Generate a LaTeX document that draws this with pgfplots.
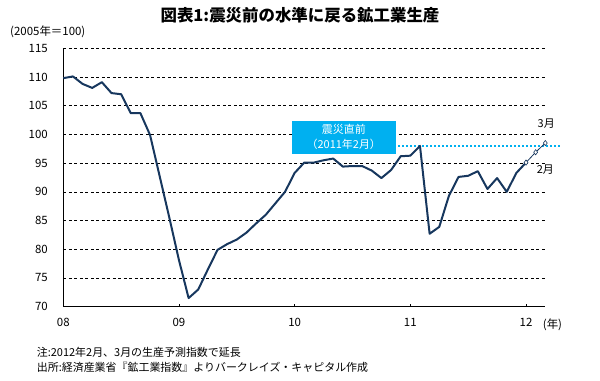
\documentclass[border=0pt]{standalone}
\usepackage{pgfplots}
\pgfplotsset{compat=1.18}
\usepackage{fontspec}
\setmainfont{Noto Sans CJK JP}
\definecolor{navy}{RGB}{23,55,94}
\definecolor{cyanbox}{RGB}{0,176,240}
\begin{document}
\begin{tikzpicture}
\useasboundingbox (-63.3bp,-74.3bp) rectangle (536.7bp,306.7bp);
\begin{axis}[
  scale only axis,
  width=482bp, height=258.4bp,
  xmin=0, xmax=50, ymin=70, ymax=115,
  axis x line*=bottom, axis y line*=left,
  axis line style={line width=0.8bp, -},
  xtick={0,12,24,36,48},
  xticklabels={08,09,10,11,12},
  ytick={70,75,...,115},
  major tick length=3bp,
  ytick style={draw=none},
  xtick style={line width=0.6bp, black},
  ymajorgrids,
  grid style={black, line width=0.6bp, dash pattern=on 3bp off 2.5bp},
  tick label style={font=\fontsize{11.5}{13}\selectfont},
  yticklabel style={xshift=-12bp},
  xticklabel style={yshift=-8bp},
  /pgf/number format/assume math mode=true,
  clip=false,
]
% dotted reference line (pre-earthquake level)
\addplot[cyanbox, line width=2.2bp, dash pattern=on 2bp off 2bp] coordinates {(34.72,98.0) (51.55,98.0)};
% projection
\addplot[navy, line width=0.8bp, mark=diamond*, mark size=2.6bp,
  mark options={fill=white, draw=navy, line width=0.6bp}] coordinates {
(48,95.1) (49,96.9) (50,98.5)};
% actual data
\addplot[navy, line width=2bp, line join=round] table {
x y
0 109.8
1 110.1
2 108.8
3 108.1
4 109.1
5 107.2
6 107.0
7 103.7
8 103.7
9 99.9
10 92.7
11 85.5
12 78.1
13 71.5
14 73.0
15 76.5
16 79.9
17 80.9
18 81.7
19 82.9
20 84.5
21 86.0
22 88.0
23 90.0
24 93.3
25 95.1
26 95.1
27 95.5
28 95.8
29 94.4
30 94.5
31 94.5
32 93.7
33 92.4
34 93.8
35 96.2
36 96.3
37 98.0
38 82.7
39 83.9
40 89.3
41 92.6
42 92.8
43 93.6
44 90.5
45 92.4
46 90.0
47 93.3
48 95.1
};
\node[fill=cyanbox, text=white, minimum width=104bp, minimum height=33bp, inner sep=0pt,
  align=center, font=\fontsize{11}{15.5}\selectfont] at (axis cs:29.1,99.55)
  {震災直前\\（2011年2月）};
\node[font=\fontsize{11}{12}\selectfont] at (axis cs:50.1,101.9) {3月};
\node[font=\fontsize{11}{12}\selectfont] at (axis cs:50.0,93.9) {2月};
\end{axis}
\node[font=\fontsize{11.5}{13}\selectfont] at (489.2bp,-18.3bp) {(年)};
\node[font=\bfseries\fontsize{16.5}{18}\selectfont] at (236.7bp,291.7bp) {図表1:震災前の水準に戻る鉱工業生産};
\node[font=\fontsize{11.5}{13}\selectfont, anchor=west, inner sep=0pt] at (-53.3bp,274.7bp) {(2005年＝100)};
\node[font=\fontsize{11}{15}\selectfont, anchor=west, inner sep=0pt] at (-26.6bp,-45.3bp) {注:2012年2月、3月の生産予測指数で延長};
\node[font=\fontsize{11}{15}\selectfont, anchor=west, inner sep=0pt] at (-26.6bp,-60.3bp) {出所:経済産業省『鉱工業指数』よりバークレイズ・キャピタル作成};
\end{tikzpicture}
\end{document}
